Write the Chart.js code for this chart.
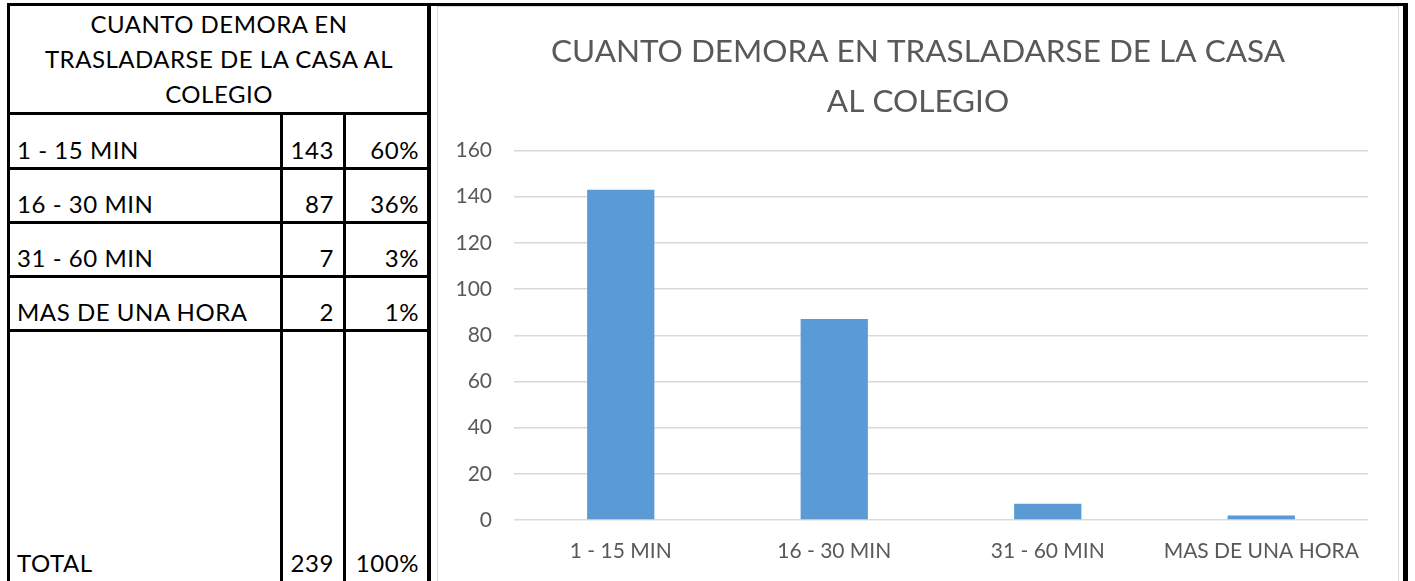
<!DOCTYPE html>
<html>
<head>
<meta charset="utf-8">
<title>Cuanto demora en trasladarse</title>
<script src="https://cdn.jsdelivr.net/npm/chart.js@4/dist/chart.umd.min.js"></script>
<style>
  body { margin: 0; width: 1415px; height: 581px; overflow: hidden; background: #fff; position: relative; font-family: Lato, "Open Sans", sans-serif; }
  .line { position: absolute; background: #000; }
  .txt { position: absolute; font-size: 24px; line-height: 24px; letter-spacing: 0.55px; color: #000; white-space: nowrap; }
  #head { position: absolute; left: 10px; width: 418px; top: 6px; text-align: center; font-size: 24px; line-height: 35px; letter-spacing: 0.5px; color: #000; }
  #chartBox { position: absolute; left: 438px; top: 7px; width: 960px; height: 574px; }
  #frame { position: absolute; left: 437px; top: 6px; width: 962px; height: 600px; border: 1px solid #d9d9d9; box-sizing: border-box; }
</style>
</head>
<body>
<div id="frame"></div>
<div id="table"></div>
<div id="chartBox"><canvas id="chart" width="960" height="574"></canvas></div>
<script>
// ---- data ----
const titleLines = ['CUANTO DEMORA EN TRASLADARSE DE LA CASA', 'AL COLEGIO'];
const headLines = ['CUANTO DEMORA EN', 'TRASLADARSE DE LA CASA AL', 'COLEGIO'];
const categories = ['1 - 15 MIN', '16 - 30 MIN', '31 - 60 MIN', 'MAS DE UNA HORA'];
const counts = [143, 87, 7, 2];
const percents = ['60%', '36%', '3%', '1%'];
const totalLabel = 'TOTAL';
const totalCount = 239;
const totalPercent = '100%';
const yMin = 0, yMax = 160, yStep = 20;

// ---- table (left side) ----
const table = document.getElementById('table');
function addLine(x, y, w, h) {
    const d = document.createElement('div');
    d.className = 'line';
    d.style.left = x + 'px'; d.style.top = y + 'px';
    d.style.width = w + 'px'; d.style.height = h + 'px';
    table.appendChild(d);
}
function addText(text, x, baseline, align) {
    const d = document.createElement('div');
    d.className = 'txt';
    d.textContent = text;
    d.style.top = (baseline - 21.3) + 'px';
    if (align === 'right') { d.style.right = (1415 - x) + 'px'; }
    else { d.style.left = x + 'px'; }
    table.appendChild(d);
}

// outer borders
addLine(7, 3, 1401, 3);     // top
addLine(7, 3, 3, 600);      // left
addLine(427, 3, 4, 600);    // divider between table and chart
addLine(1403, 3, 5, 600);   // right

// row separators
const rowLines = [112, 167, 221, 275, 329];
rowLines.forEach(y => addLine(10, y, 417, 3));
addLine(280, 113, 3, 500);
addLine(343, 113, 3, 500);

const head = document.createElement('div');
head.id = 'head';
head.innerHTML = headLines.join('<br>');
table.appendChild(head);

categories.forEach((c, i) => {
    const base = rowLines[i + 1] - 7.5;
    addText(c, 17, base, 'left');
    addText(String(counts[i]), 334, base, 'right');
    addText(percents[i], 419, base, 'right');
});
addText(totalLabel, 17, 572, 'left');
addText(String(totalCount), 334, 572, 'right');
addText(totalPercent, 419, 572, 'right');

// ---- chart (right side) ----
const tickColor = '#595959';
const gridColor = '#d9d9d9';

// title is centred on the whole canvas, not only inside the right padding
const titleFullWidth = {
    id: 'titleFullWidth',
    afterLayout: function(chart) {
        if (chart.titleBlock) {
            chart.titleBlock.left = 0;
            chart.titleBlock.right = chart.width;
            chart.titleBlock.width = chart.width;
        }
    }
};

const ctx = document.getElementById('chart').getContext('2d');
const chart = new Chart(ctx, {
    type: 'bar',
    data: {
        labels: categories,
        datasets: [{
            label: 'Cantidad',
            data: counts,
            backgroundColor: '#5b9bd5',
            borderWidth: 0,
            barPercentage: 0.315,
            categoryPercentage: 1
        }]
    },
    options: {
        responsive: false,
        animation: false,
        layout: { padding: { left: 0, right: 30, top: 0, bottom: 0 } },
        plugins: {
            legend: { display: false },
            tooltip: { enabled: false },
            title: {
                display: true,
                text: titleLines,
                color: tickColor,
                font: { family: 'Lato', size: 31.5, weight: 'normal', lineHeight: 50 / 31.5 },
                padding: { top: 19.5, bottom: 24 }
            }
        },
        scales: {
            x: {
                grid: { display: false },
                border: { display: false },
                ticks: { color: tickColor, font: { family: 'Lato', size: 21 }, padding: 11, maxRotation: 0, autoSkip: false },
                afterFit: function(scale) { scale.height = 61; }
            },
            y: {
                min: yMin,
                max: yMax,
                grid: { color: gridColor, lineWidth: 1.5, drawTicks: false },
                border: { display: false },
                ticks: { stepSize: yStep, color: tickColor, font: { family: 'Lato', size: 21 }, padding: 22 },
                afterFit: function(scale) { scale.width = 76; }
            }
        }
    },
    plugins: [titleFullWidth]
});
</script>
</body>
</html>
